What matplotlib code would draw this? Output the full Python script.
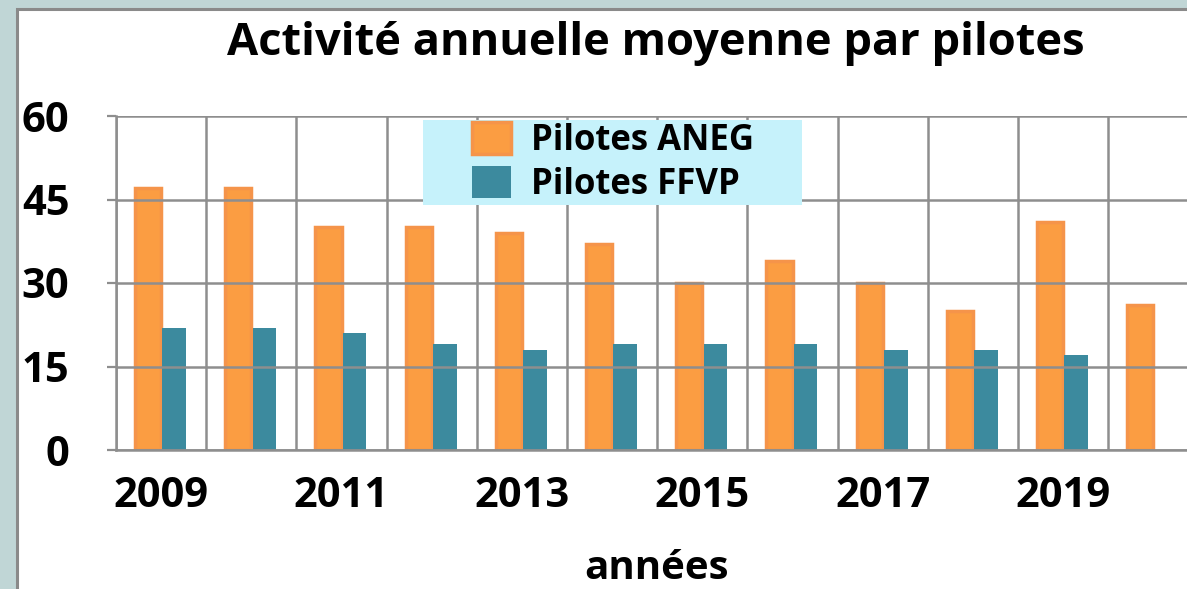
import matplotlib.pyplot as plt
from matplotlib import font_manager
from matplotlib.patches import Rectangle

annees = [2009, 2010, 2011, 2012, 2013, 2014, 2015, 2016, 2017, 2018, 2019, 2020]
aneg = [47, 47, 40, 40, 39, 37, 30, 34, 30, 25, 41, 26]
ffvp = [22, 22, 21, 19, 18, 19, 19, 19, 18, 18, 17, None]
yticks = [0, 15, 30, 45, 60]

# une police avec une vraie graisse bold
fam = 'DejaVu Sans'
for cand in ['Noto Sans', 'Open Sans', 'Lato', 'Liberation Sans']:
    if any(f.name == cand and f.weight in (700, 'bold') for f in font_manager.fontManager.ttflist):
        fam = cand
        break
plt.rcParams['font.family'] = [fam, 'DejaVu Sans']
plt.rcParams['font.weight'] = 'bold'

W, H = 1187, 589
fig = plt.figure(figsize=(W / 100, H / 100), dpi=100, facecolor='#c0d6d6')

# cadre blanc
fig.patches.append(Rectangle((17 / W, -0.1), 1.2, (H - 9) / H + 0.1, transform=fig.transFigure,
                             facecolor='white', edgecolor='#8a8a8a', linewidth=2.2, zorder=-5))

ax = fig.add_axes([116 / W, 1 - 450 / H, 12 * 90.2 / W, 334 / H])
ax.set_zorder(2)
ax.set_facecolor('none')

x = list(range(len(annees)))
bw = 0.29
ax.bar([i - bw / 2 for i in x], aneg, width=bw, color='#fb9d42', edgecolor='#f5944a',
       linewidth=2.5, label='Pilotes ANEG', zorder=2)
xf = [i + bw / 2 for i, v in zip(x, ffvp) if v is not None]
vf = [v for v in ffvp if v is not None]
ax.bar(xf, vf, width=bw * 0.9, color='#3c8a9e', label='Pilotes FFVP', zorder=2)

ax.set_xlim(-0.5, 11.5)
ax.set_ylim(0, 60)
ax.set_yticks(yticks)
ax.set_yticklabels([str(v) for v in yticks], fontsize=30, fontweight='bold')
ax.set_xticks(x[::2])
ax.set_xticklabels([str(a) for a in annees[::2]], fontsize=30, fontweight='bold')
ax.set_xticks([i - 0.5 for i in range(13)], minor=True)
ax.tick_params(axis='x', which='both', length=0, pad=19)
ax.tick_params(axis='y', length=6.5, width=1.6, color='#8e8e8e', pad=27)
ax.grid(True, axis='y', which='major', color='#8e8e8e', linewidth=1.8, zorder=3)
ax.grid(True, axis='x', which='minor', color='#8e8e8e', linewidth=1.8, zorder=3)
ax.set_axisbelow(False)
for s in ['top', 'right']:
    ax.spines[s].set_visible(False)
for s in ['left', 'bottom']:
    ax.spines[s].set_color('#8e8e8e')
    ax.spines[s].set_linewidth(1.8)

# légende au-dessus du quadrillage, avec son fond cyan
fig.patches.append(Rectangle((423 / W, 1 - 205 / H), 379 / W, 85 / H, transform=fig.transFigure,
                             facecolor='#c6f2fb', edgecolor='none', zorder=4))
handles, labels = ax.get_legend_handles_labels()
leg = fig.legend(handles, labels, loc='upper left', bbox_to_anchor=(472 / W, 1 - 122 / H),
                 prop={'weight': 'bold', 'size': 25}, frameon=False, handlelength=1.12,
                 handleheight=1.04, handletextpad=0.58, borderpad=0, labelspacing=0.2,
                 borderaxespad=0)
leg.set_zorder(6)

fig.text(656 / W, 1 - 55 / H, 'Activité annuelle moyenne par pilotes', ha='center', va='baseline',
         fontsize=32.6, fontweight='bold')
fig.text(656 / W, 1 - 579 / H, 'années', ha='center', va='baseline', fontsize=29, fontweight='bold')

fig.savefig('out.png', dpi=100, facecolor=fig.get_facecolor())
